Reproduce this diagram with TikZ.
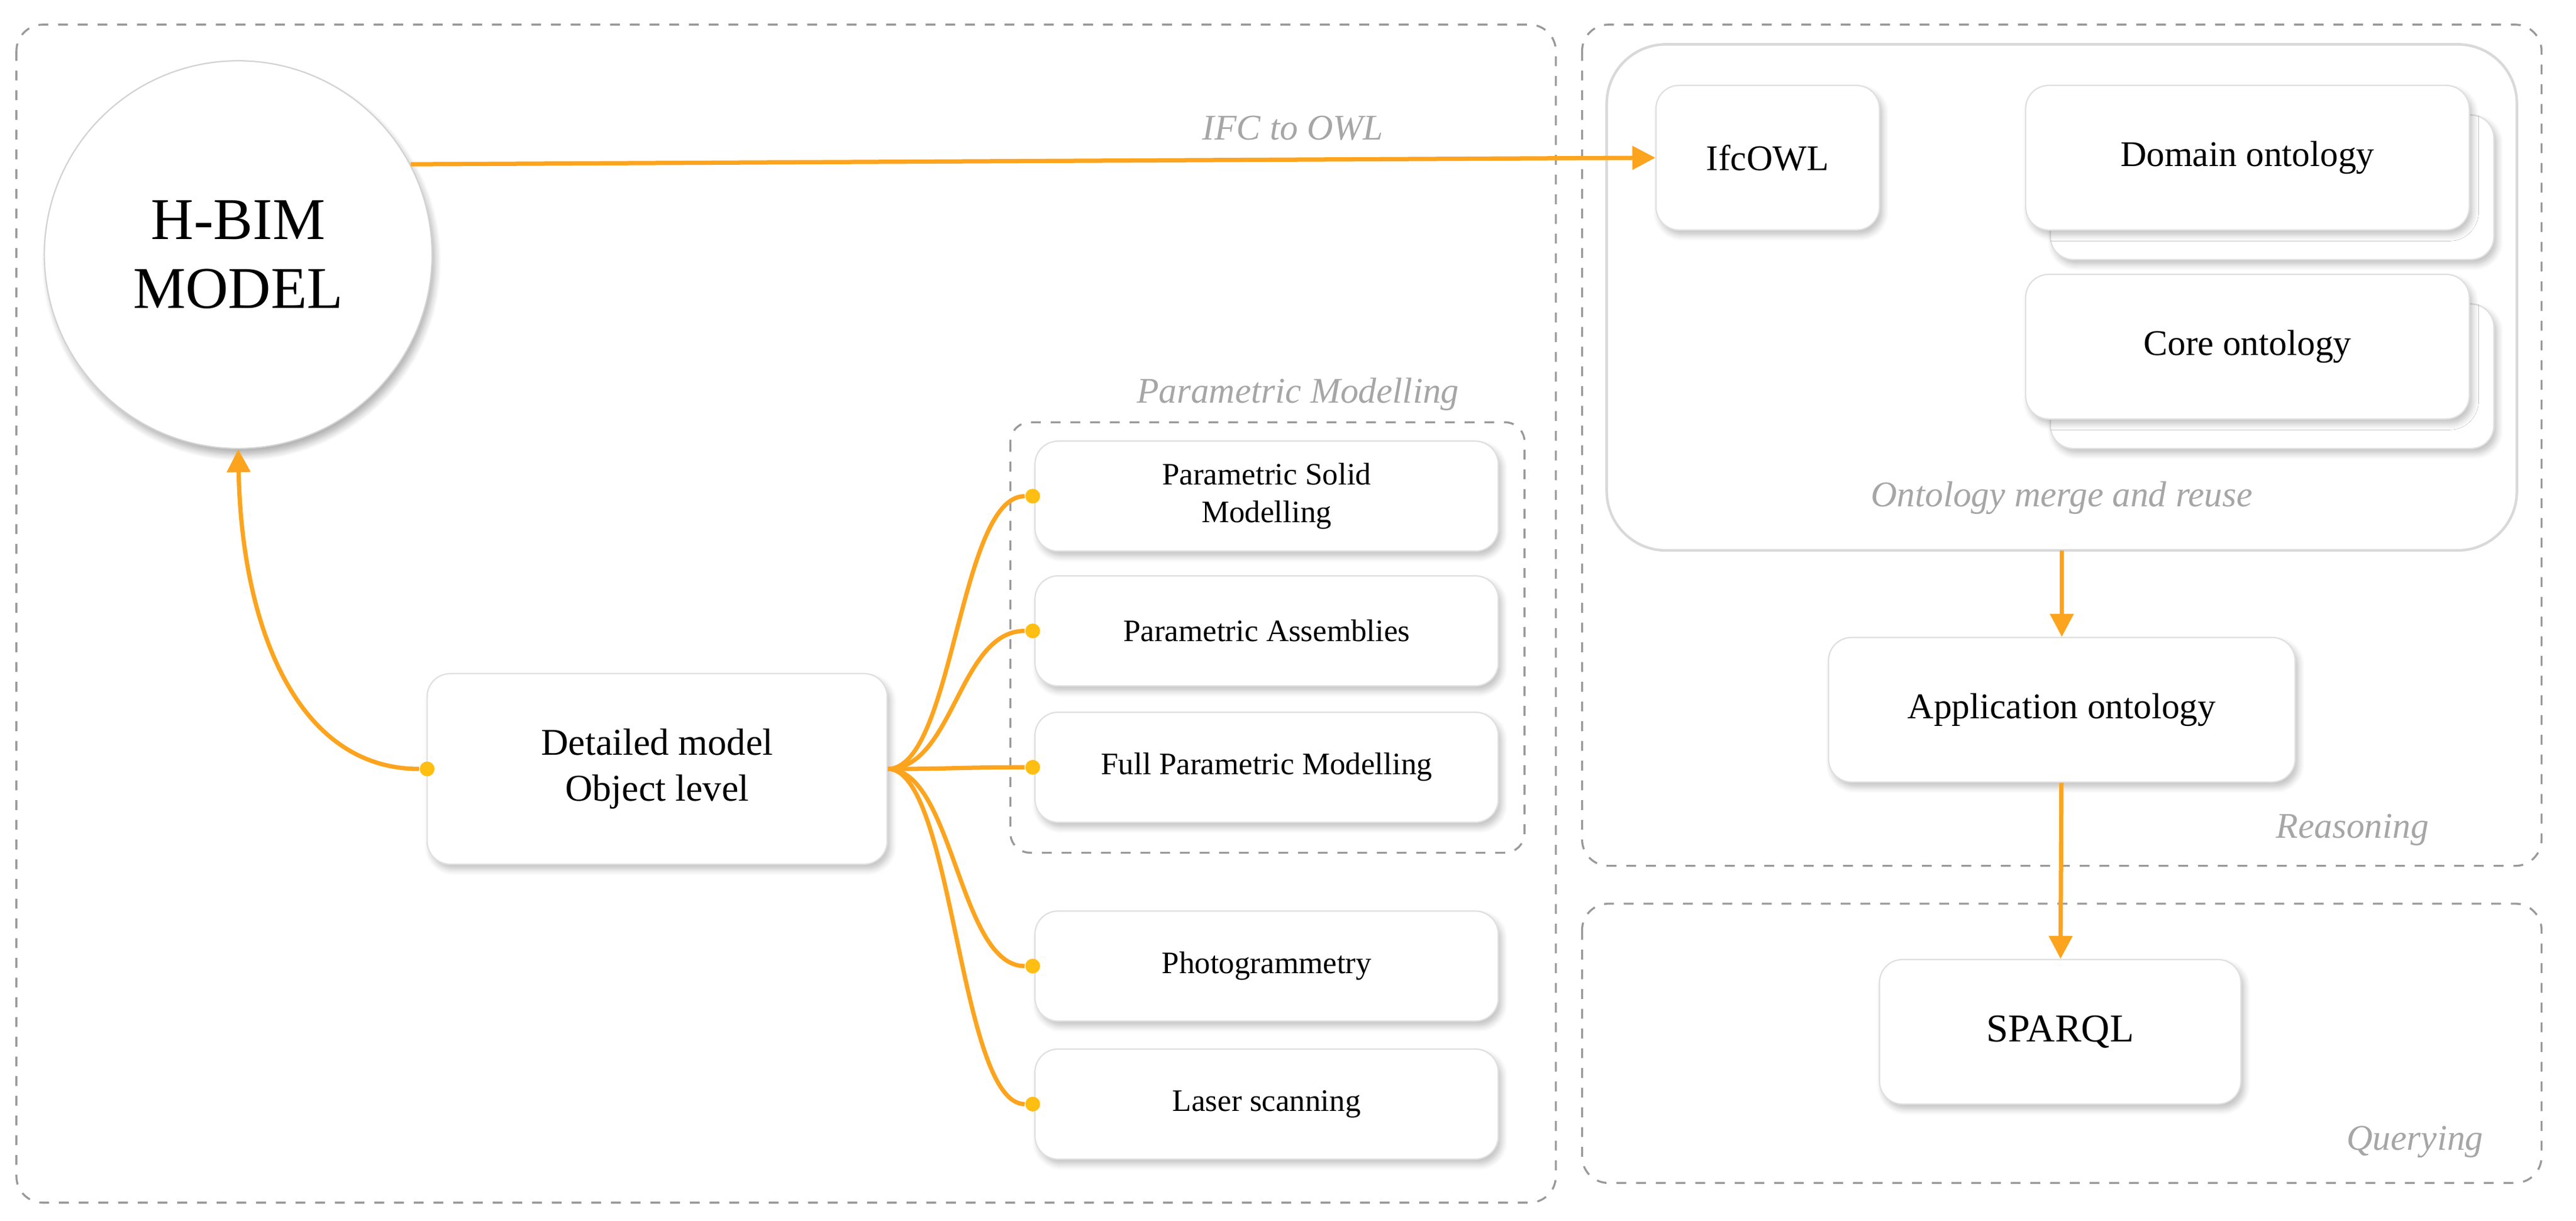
\documentclass[tikz,border=0pt]{standalone}
\usepackage{fontspec}
\setmainfont{Liberation Serif}
\usetikzlibrary{shadows.blur,arrows.meta}
\definecolor{org}{HTML}{F98A2A}
\definecolor{yel}{HTML}{FFBE12}
\definecolor{mix}{HTML}{FCA41E}
\definecolor{lbl}{HTML}{A6A6A6}
\begin{document}
\begin{tikzpicture}[x=0.5pt,y=-0.5pt,
 frame/.style={draw=gray!80,dashed,rounded corners=8pt,line width=0.6pt},
 box/.style={draw=gray!25,fill=white,rounded corners=7pt,blur shadow={shadow blur steps=6,shadow xshift=1pt,shadow yshift=-1.5pt,shadow opacity=25},align=center,font=\fontsize{10}{12}\selectfont},
 sbox/.style={box,font=\fontsize{9.5}{11.5}\selectfont},
 obox/.style={box,font=\fontsize{11}{13}\selectfont},
 tag/.style={text=lbl,font=\itshape\fontsize{11}{13}\selectfont},
 con/.style={line width=1.3pt,mix},
 arr/.style={-{Triangle[length=7pt,width=7pt]}},
 dot/.style={circle,fill=yel,inner sep=0pt,minimum size=4.5pt}]
\useasboundingbox (0,0) rectangle (1568,743);
\draw[frame] (10,15) rectangle (947,732);
\draw[frame] (963,15) rectangle (1547,527);
\draw[frame] (963,550) rectangle (1547,720);
\draw[draw=gray!30,rounded corners=18pt,line width=0.8pt] (978,27) rectangle (1532,335);
\draw[frame,rounded corners=6pt] (615,257) rectangle (928,519);
\node[tag] at (790,240) {Parametric Modelling};
\node[tag] at (787,78) (ifclab) {IFC to OWL};
\node[tag] at (1255,303) (merge) {Ontology merge and reuse};
\node[tag] at (1432,505) (reas) {Reasoning};
\node[tag] at (1470,695) (quer) {Querying};
% circle
\node[circle,draw=gray!35,fill=white,minimum size=118pt,blur shadow={shadow blur steps=8,shadow xshift=1pt,shadow yshift=-2pt,shadow opacity=30},align=center,font=\fontsize{18}{21}\selectfont] (hbim) at (145,155) {H-BIM\\MODEL};
\node[box,minimum width=140pt,minimum height=58pt,font=\fontsize{11.5}{14}\selectfont] (det) at (400,468) {Detailed model\\Object level};
\foreach \n/\y/\t in {psm/302/{Parametric Solid\\Modelling},pa/384/{Parametric Assemblies},fpm/467/{Full Parametric Modelling},ph/588/{Photogrammetry},ls/672/{Laser scanning}}
  \node[sbox,minimum width=141pt,minimum height=33.5pt] (\n) at (771,\y) {\t};
% right
\node[obox,minimum width=68pt,minimum height=44pt] (ifc) at (1076,96) {IfcOWL};
\node[draw=gray!25,fill=white,rounded corners=7pt,minimum width=135pt,minimum height=44pt,blur shadow={shadow blur steps=6,shadow xshift=1pt,shadow yshift=-1.5pt,shadow opacity=25}] (dsh) at (1383,114) {};
\node[obox,minimum width=135pt,minimum height=44pt] (dom) at (1368,96) {Domain ontology};
\node[draw=gray!25,fill=white,rounded corners=7pt,minimum width=135pt,minimum height=44pt,blur shadow={shadow blur steps=6,shadow xshift=1pt,shadow yshift=-1.5pt,shadow opacity=25}] (csh) at (1383,229) {};
\node[obox,minimum width=135pt,minimum height=44pt] (core) at (1368,211) {Core ontology};
\node[obox,minimum width=142pt,minimum height=44pt] (app) at (1255,432) {Application ontology};
\node[obox,minimum width=110pt,minimum height=44pt,font=\fontsize{12}{14}\selectfont] (sp) at (1254,628) {SPARQL};
\coordinate (top1) at (1255,335);
\coordinate (hstart) at (250,100);
% connectors
\draw[con,arr] (hstart) -- (ifc.west);
\node[dot] (d0) at (260,468) {};
\draw[con,arr] (d0) .. controls (180,468) and (147,380) .. (hbim.south);
\foreach \n in {psm,pa,fpm,ph,ls}{
  \node[dot] (e\n) at ([xshift=-0.5pt]\n.west) {};
  \draw[con] (det.east) .. controls +(40,0) and +(-45,0) .. (e\n);
}
\draw[con,arr] (top1) -- (app);
\draw[con,arr] (app) -- (sp);
\end{tikzpicture}
\end{document}
